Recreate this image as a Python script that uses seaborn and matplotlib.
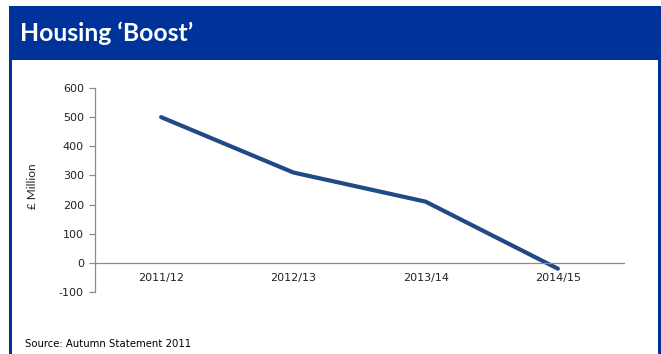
import matplotlib
matplotlib.use("Agg")
import matplotlib.pyplot as plt
from matplotlib.patches import Rectangle
from matplotlib.ticker import FixedLocator
import seaborn as sns
import pandas as pd

years = ["2011/12", "2012/13", "2013/14", "2014/15"]
boost_gbp_m = [500, 310, 210, -20]
y_ticks = [-100, 0, 100, 200, 300, 400, 500, 600]

title = "Housing \u2018Boost\u2019"
y_label = "\u00a3 Million"
source = "Source: Autumn Statement 2011"

sns.set_theme(style="white")
plt.rcParams["font.family"] = ["Lato", "DejaVu Sans"]

W, H = 661, 354
fig = plt.figure(figsize=(W / 100, H / 100), dpi=100)
fig.patch.set_facecolor("white")

navy = "#003399"
line_col = "#1F4A85"
axis_grey = "#8C8C8C"
text_col = "#222222"
tick_font = ["DejaVu Sans"]

def px_rect(x0, y0, x1, y1, color):
    fig.add_artist(Rectangle((x0 / W, 1 - y1 / H), (x1 - x0) / W, (y1 - y0) / H,
                             transform=fig.transFigure, color=color, lw=0, zorder=0))

# slide frame: header banner plus side borders
px_rect(9, 6, 661, 60, navy)
px_rect(9, 60, 12, 354, navy)
px_rect(658, 60, 661, 354, navy)

fig.text(20 / W, 1 - 33 / H, title, color="white", fontsize=17.8, fontweight="bold",
         va="center", ha="left")
fig.text(25 / W, 1 - 344 / H, source, color="black", fontsize=7.3, va="center",
         ha="left", family=tick_font)
fig.text(32 / W, 1 - 186 / H, y_label, color=text_col, fontsize=8.5, rotation=90,
         va="center", ha="center")

ax = fig.add_axes([95 / W, 1 - 292 / H, (624 - 95) / W, (292 - 88) / H])
ax.set_facecolor("none")

df = pd.DataFrame({"year": years, "value": boost_gbp_m})
sns.lineplot(data=df, x="year", y="value", ax=ax, color=line_col, linewidth=3,
             sort=False)

ax.set_xlim(-0.5, len(years) - 0.5)
ax.set_ylim(-100, 600)
ax.set_yticks(y_ticks)
ax.set_yticklabels([str(v) for v in y_ticks])
ax.set_xlabel("")
ax.set_ylabel("")

for side in ("top", "right"):
    ax.spines[side].set_visible(False)
for side in ("left", "bottom"):
    ax.spines[side].set_color(axis_grey)
    ax.spines[side].set_linewidth(0.9)
ax.spines["bottom"].set_position(("data", 0))

ax.xaxis.set_minor_locator(FixedLocator([i - 0.5 for i in range(len(years) + 1)]))
ax.tick_params(axis="x", which="major", length=0, pad=7, labelcolor=text_col)
ax.tick_params(axis="x", which="minor", length=3, width=0.9, color=axis_grey, direction="out")
ax.tick_params(axis="y", length=4, width=0.9, color=axis_grey, pad=4,
               labelcolor=text_col, left=True)
for lbl in ax.get_xticklabels() + ax.get_yticklabels():
    lbl.set_family(tick_font)
    lbl.set_fontsize(8)

fig.savefig("out.png", dpi=100)
